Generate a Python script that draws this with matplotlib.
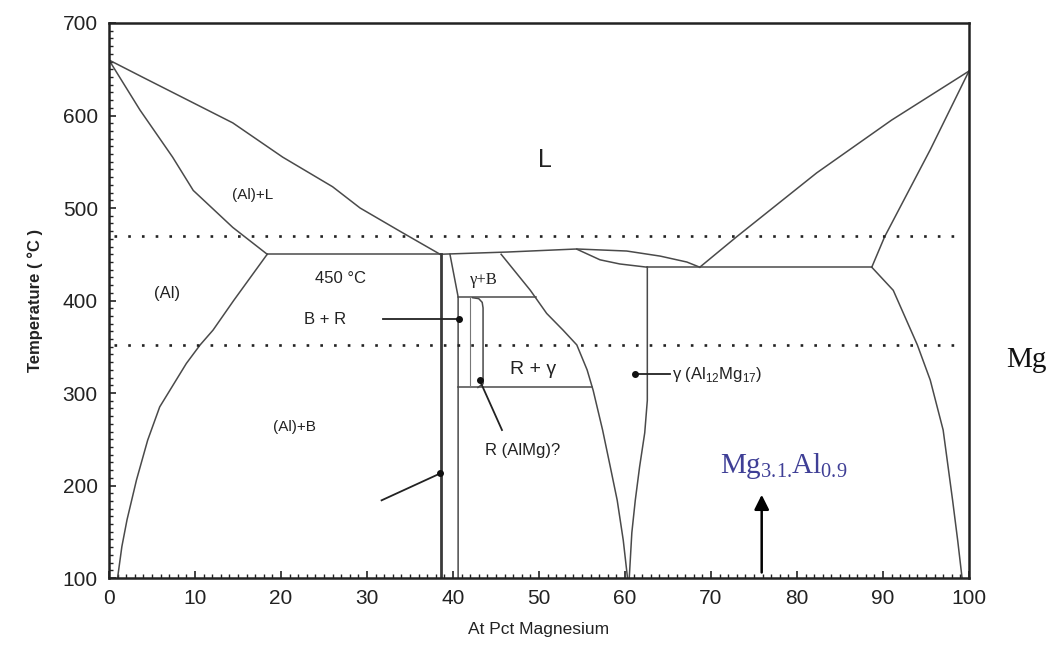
import matplotlib
matplotlib.use("Agg")
import matplotlib.pyplot as plt
from matplotlib.ticker import MultipleLocator

plt.rcParams['font.family'] = ['Liberation Sans', 'DejaVu Sans']
plt.rcParams['mathtext.fontset'] = 'custom'
plt.rcParams['mathtext.rm'] = 'Liberation Serif'
plt.rcParams['mathtext.sf'] = 'Liberation Sans'

# ---- phase boundary data (At Pct Mg, Temperature C) ----
al_liq_x = [0, 4.0, 14.4, 20.2, 26.0, 29.2, 34.0, 38.5]
al_liq_t = [660, 641, 592, 555, 523, 500, 474, 450]

al_sol_x = [0, 3.6, 7.4, 9.8, 14.4, 18.4]
al_sol_t = [660, 606, 555, 519, 479, 450]

al_solv_x = [18.4, 14.5, 12.1, 10.6, 9.0, 5.9, 4.5, 3.2, 2.1, 1.5, 1.0]
al_solv_t = [450, 400, 368, 352, 332, 285, 249, 206, 163, 134, 100]

eut1_x = [18.4, 38.5]
eut1_t = [450, 450]

beta_left_x = [38.6, 38.6]
beta_left_t = [450, 100]

beta_right_x = [39.65, 40.6, 40.6]
beta_right_t = [450, 404, 100]

mid_liq_x = [38.5, 46.3, 54.4, 60.2, 64.1, 67.2, 68.7]
mid_liq_t = [450, 452.4, 455.7, 453.5, 448, 441.6, 436]

gam_sol_x = [54.4, 57.1, 59.4, 62.6]
gam_sol_t = [455.5, 444, 439.5, 436]

gam_left_x = [45.6, 49.0, 50.9, 52.8, 54.4, 55.6, 56.3, 57.4, 58.3, 59.1, 59.8, 60.3]
gam_left_t = [450, 411, 386, 368, 352, 325, 303, 260, 220, 184, 141, 100]

gam_right_x = [62.6, 62.6, 62.3, 61.7, 61.2, 60.8, 60.5]
gam_right_t = [436, 292, 257, 220, 184, 149, 100]

gb_x = [40.6, 49.7]
gb_t = [404, 404]

rg_x = [40.6, 56.2]
rg_t = [306, 306]

r_left_x = [42.0, 42.0]
r_left_t = [404, 306]

r_right_x = [42.3, 43.0, 43.4, 43.5, 43.5, 42.9]
r_right_t = [403, 402, 398, 392, 310, 306]

eut2_x = [62.6, 88.7]
eut2_t = [436, 436]

mg_liq_x = [100, 91.0, 82.3, 73.0, 68.7]
mg_liq_t = [648, 595, 538, 469, 436]

mg_sol_x = [100, 95.5, 90.2, 88.7]
mg_sol_t = [648, 563, 469, 436]

mg_solv_x = [88.7, 91.2, 94.0, 95.5, 97.0, 98.1, 98.7, 99.2]
mg_solv_t = [436, 411, 352, 314, 260, 184, 140, 100]

dotted_t = [470, 352]

boundaries = [
    (al_liq_x, al_liq_t), (al_sol_x, al_sol_t), (al_solv_x, al_solv_t),
    (eut1_x, eut1_t), (beta_right_x, beta_right_t), (mid_liq_x, mid_liq_t),
    (gam_sol_x, gam_sol_t), (gam_left_x, gam_left_t), (gam_right_x, gam_right_t),
    (gb_x, gb_t), (rg_x, rg_t), (eut2_x, eut2_t),
    (mg_liq_x, mg_liq_t), (mg_sol_x, mg_sol_t), (mg_solv_x, mg_solv_t),
]

fig = plt.figure(figsize=(10.6, 6.57), dpi=100)
ax = fig.add_axes([0.1028, 0.1202, 0.8113, 0.8448])

lc = '#4a4a4a'
for xs, ts in boundaries:
    ax.plot(xs, ts, color=lc, lw=1.1, solid_joinstyle='round')
ax.plot(beta_left_x, beta_left_t, color='#3a3a3a', lw=2.0)
ax.plot(r_left_x, r_left_t, color='#777777', lw=0.8)
ax.plot(r_right_x, r_right_t, color=lc, lw=1.1)

for t in dotted_t:
    ax.plot([0.6, 99.4], [t, t], color='#222222', lw=1.9,
            linestyle=(0, (1, 4.2)), dash_capstyle='butt')

# pointer lines with dot heads
pointers = [((31.9, 380), (40.7, 380)),
            ((45.7, 260), (43.1, 314)),
            ((31.7, 184), (38.5, 213)),
            ((65.2, 320.5), (61.2, 320.5))]
for (x0, t0), (x1, t1) in pointers:
    ax.plot([x0, x1], [t0, t1], color='#222222', lw=1.3)
    ax.plot([x1], [t1], 'o', color='#111111', ms=4)

# phase labels
ax.text(50.7, 552, 'L', fontsize=18, ha='center', va='center', color='#222222')
ax.text(16.7, 514, '(Al)+L', fontsize=11, ha='center', va='center', color='#222222')
ax.text(26.9, 424, '450 °C', fontsize=12, ha='center', va='center', color='#222222')
ax.text(6.7, 408, '(Al)', fontsize=12, ha='center', va='center', color='#222222')
ax.text(25.1, 380, 'B + R', fontsize=12, ha='center', va='center', color='#222222')
ax.text(43.6, 422, 'γ+B', fontsize=12, ha='center', va='center', color='#222222',
        family=['Liberation Serif', 'DejaVu Serif'])
ax.text(49.3, 325, 'R + γ', fontsize=14, ha='center', va='center', color='#222222')
ax.text(21.6, 263, '(Al)+B', fontsize=11, ha='center', va='center', color='#222222')
ax.text(48.1, 238, 'R (AlMg)?', fontsize=12, ha='center', va='center', color='#222222')
ax.text(65.5, 320, r'γ (Al$_{\mathsf{12}}$Mg$_{\mathsf{17}}$)', fontsize=12,
        ha='left', va='center', color='#222222')
ax.text(106.7, 336, 'Mg', fontsize=21, ha='center', va='center', color='#111111',
        family=['Liberation Serif', 'DejaVu Serif'], clip_on=False)
ax.text(78.4, 221, r'$\mathrm{Mg}_{\mathrm{3.1.}}\!\mathrm{Al}_{\mathrm{0.9}}$', fontsize=21,
        ha='center', va='center', color='#3f3f96')
ax.annotate('', xy=(75.9, 190), xytext=(75.9, 106),
            arrowprops=dict(arrowstyle='-|>', color='black', lw=1.8,
                            mutation_scale=22, shrinkA=0, shrinkB=0))

ax.set_xlim(0, 100)
ax.set_ylim(100, 700)
ax.xaxis.set_major_locator(MultipleLocator(10))
ax.xaxis.set_minor_locator(MultipleLocator(1))
ax.yaxis.set_major_locator(MultipleLocator(100))
ax.yaxis.set_minor_locator(MultipleLocator(100 / 12))
ax.tick_params(axis='both', which='both', direction='in', top=False, right=False,
               labelsize=15, colors='#222222')
ax.tick_params(axis='both', which='major', length=5, width=1.2, pad=8)
ax.tick_params(axis='both', which='minor', length=3, width=1.0)
for s in ax.spines.values():
    s.set_linewidth(1.8)
    s.set_color('#222222')

ax.set_xlabel('At Pct Magnesium', fontsize=12.5, color='#222222', labelpad=10)
ax.set_ylabel('Temperature ( °C )', fontsize=12, color='#222222', labelpad=14,
              fontweight='bold')

fig.savefig('out.png', dpi=100)
